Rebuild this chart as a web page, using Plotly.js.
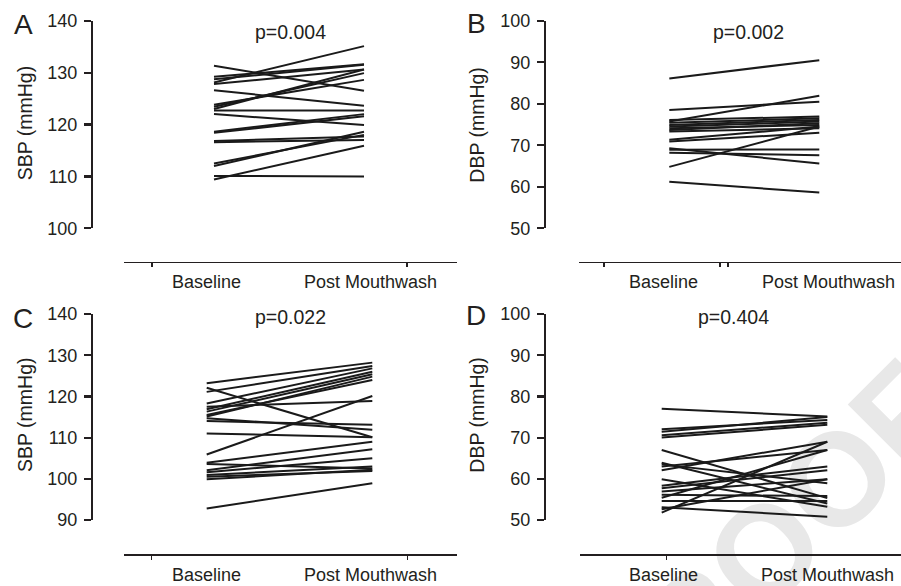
<!DOCTYPE html>
<html><head><meta charset="utf-8">
<script src="https://cdn.plot.ly/plotly-3.0.1.min.js"></script>
<style>
html,body{margin:0;padding:0;background:#fff;}
#wrap{position:relative;width:901px;height:586px;overflow:hidden;background:#fff;}
#wm{position:absolute;left:765px;top:552px;transform:translate(-50%,-50%) rotate(-45deg);font:bold 132px 'Liberation Sans',Arial,sans-serif;color:#e8e8e8;white-space:nowrap;line-height:1;z-index:0;}
#chart{position:absolute;left:0;top:0;width:901px;height:586px;z-index:1;}
</style></head><body>
<div id="wrap"><div id="wm">PROOF</div><div id="chart"></div></div>
<script>
// ---- data ----
const categories = ["Baseline", "Post Mouthwash"];
const panelLetters = ["A", "B", "C", "D"];
const pValues = ["p=0.004", "p=0.002", "p=0.022", "p=0.404"];
const yTitles = ["SBP (mmHg)", "DBP (mmHg)", "SBP (mmHg)", "DBP (mmHg)"];

const sbpBaselineA = [131.3,128.1,129.2,128.7,127.8,126.6,123.8,123.4,123.0,122.7,122.0,118.6,118.4,116.8,116.6,112.5,112.0,110.1,109.4];
const sbpPostA     = [126.5,135.1,131.6,131.5,130.6,123.6,128.6,129.9,130.6,122.7,119.9,122.0,121.6,117.7,117.0,118.0,118.6,110.0,115.9];

const dbpBaselineB = [86.1,78.5,75.7,76.1,75.4,74.9,74.5,74.1,73.7,73.3,71.3,70.9,69.3,68.9,68.2,64.8,61.2];
const dbpPostB     = [90.5,80.5,81.9,76.9,76.5,76.1,75.7,74.9,75.3,74.1,74.5,73.0,65.6,69.0,67.6,74.5,58.6];

const sbpBaselineC = [123.2,121.1,122.1,118.3,117.5,116.9,116.3,115.1,114.7,114.0,111.0,105.9,103.9,103.6,102.1,101.6,100.9,100.5,99.9,92.8,115.5];
const sbpPostC     = [128.2,127.4,110.1,126.8,118.9,126.0,125.4,124.8,111.9,113.1,110.1,120.1,109.0,102.5,107.2,105.0,103.0,101.9,102.2,98.9,124.0];

const dbpBaselineD = [77.0,72.0,71.4,70.6,70.0,67.0,63.9,63.5,63.0,62.1,59.9,58.3,57.7,56.9,56.1,55.4,54.6,53.1,51.8,52.6];
const dbpPostD     = [75.1,74.3,75.0,73.6,73.1,55.3,54.0,58.9,67.0,69.0,53.2,63.0,62.1,59.9,55.8,67.0,54.6,50.8,69.0,59.9];

const yTicksA = [100,110,120,130,140];
const yTicksB = [50,60,70,80,90,100];
const yTicksC = [90,100,110,120,130,140];
const yTicksD = [50,60,70,80,90,100];

// ---- layout helpers ----
const W = 901, H = 586;
const fx = x => x / W;
const fy = y => 1 - y / H;
const INK = '#231f20';
const FONT = "'Liberation Sans', Arial, Helvetica, sans-serif";

const panels = [
  {base: sbpBaselineA, post: sbpPostA, yr: [100,140], yt: yTicksA,
   xl: 124.3, xr: 457, x0: 214, x1: 364, xTicks: [152, 407], axY: 261.7,
   yTop: 20.7, yBot: 228.3, yAxX: 92, lblY: 281.7, lblX: [206.7, 370],
   letter: [23, 25], pv: [290.7, 31.7], yTitle: [25, 123.3]},
  {base: dbpBaselineB, post: dbpPostB, yr: [50,100], yt: yTicksB,
   xl: 579.3, xr: 901, x0: 669.3, x1: 819.3, xTicks: [604, 720, 728], axY: 261.7,
   yTop: 20.7, yBot: 228.3, yAxX: 545, lblY: 281.7, lblX: [663.3, 828],
   letter: [476, 23.5], pv: [748.3, 31.7], yTitle: [476.7, 125]},
  {base: sbpBaselineC, post: sbpPostC, yr: [90,140], yt: yTicksC,
   xl: 124.3, xr: 457, x0: 206.7, x1: 372.3, xTicks: [151.7, 407.3], axY: 554.3,
   yTop: 314, yBot: 520, yAxX: 92, lblY: 575, lblX: [206.7, 370],
   letter: [23, 318], pv: [290, 317.3], yTitle: [25, 415]},
  {base: dbpBaselineD, post: dbpPostD, yr: [50,100], yt: yTicksD,
   xl: 580, xr: 901, x0: 661.7, x1: 827.3, xTicks: [666.7], axY: 554.3,
   yTop: 314, yBot: 520, yAxX: 545, lblY: 575, lblX: [663.5, 827],
   letter: [476, 315], pv: [733.3, 316.7], yTitle: [476.7, 415]}
];

const data = [];
const layout = {
  width: W, height: H,
  margin: {l: 0, r: 0, t: 0, b: 0},
  paper_bgcolor: 'rgba(0,0,0,0)', plot_bgcolor: 'rgba(0,0,0,0)',
  showlegend: false,
  font: {family: FONT, color: INK},
  annotations: []
};

panels.forEach((p, i) => {
  const n = i + 1;
  const xa = n === 1 ? 'x' : 'x' + n;
  const ya = n === 1 ? 'y' : 'y' + n;
  const xs = [], ys = [];
  p.base.forEach((b, k) => { xs.push(0, 1, null); ys.push(b, p.post[k], null); });
  data.push({type: 'scatter', mode: 'lines', x: xs, y: ys, xaxis: xa, yaxis: ya,
             line: {color: '#1a1a1a', width: 2}, hoverinfo: 'skip', connectgaps: false});

  const span = p.x1 - p.x0;
  const toData = px => (px - p.x0) / span;
  layout['xaxis' + (n === 1 ? '' : n)] = {
    domain: [fx(p.xl), fx(p.xr)],
    range: [toData(p.xl), toData(p.xr)],
    anchor: 'free', position: fy(p.axY),
    showline: true, linecolor: INK, linewidth: 1.4,
    showgrid: false, zeroline: false,
    tickmode: 'array', tickvals: p.xTicks.map(toData), ticktext: p.xTicks.map(() => ''),
    ticks: 'outside', ticklen: 4, tickwidth: 1.2, tickcolor: INK,
    showticklabels: false, fixedrange: true
  };
  layout['yaxis' + (n === 1 ? '' : n)] = {
    domain: [fy(p.yBot), fy(p.yTop)],
    range: p.yr,
    anchor: 'free', position: fx(p.yAxX),
    showline: true, linecolor: INK, linewidth: 2.2,
    showgrid: false, zeroline: false,
    tickmode: 'array', tickvals: p.yt,
    ticks: 'outside', ticklen: 7, tickwidth: 2.2, tickcolor: INK,
    tickfont: {size: 18, family: FONT, color: INK},
    ticklabelstandoff: 3, fixedrange: true
  };
  categories.forEach((c, k) => {
    layout.annotations.push({text: c, xref: 'paper', yref: 'paper',
      x: fx(p.lblX[k]), y: fy(p.lblY), xanchor: 'center', yanchor: 'middle',
      showarrow: false, font: {size: 18, family: FONT, color: INK}});
  });
  layout.annotations.push({text: pValues[i], xref: 'paper', yref: 'paper',
    x: fx(p.pv[0]), y: fy(p.pv[1]), xanchor: 'center', yanchor: 'middle',
    showarrow: false, font: {size: 19.5, family: FONT, color: INK}});
  layout.annotations.push({text: panelLetters[i], xref: 'paper', yref: 'paper',
    x: fx(p.letter[0]), y: fy(p.letter[1]), xanchor: 'center', yanchor: 'middle',
    showarrow: false, font: {size: 28, family: FONT, color: INK}});
  layout.annotations.push({text: yTitles[i], xref: 'paper', yref: 'paper',
    x: fx(p.yTitle[0]), y: fy(p.yTitle[1]), xanchor: 'center', yanchor: 'middle',
    textangle: -90, showarrow: false, font: {size: 19.5, family: FONT, color: INK}});
});

Plotly.newPlot('chart', data, layout, {staticPlot: true, displayModeBar: false});
</script>
</body></html>
